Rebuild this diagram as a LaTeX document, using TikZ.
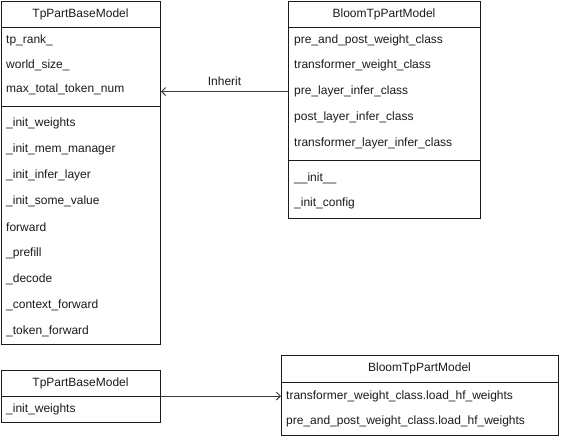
\documentclass[tikz,border=0pt]{standalone}
\usepackage{fontspec}
\setmainfont{Liberation Sans}
\usetikzlibrary{arrows.meta}
\definecolor{ink}{HTML}{1A1A1A}
\tikzset{
  frame/.style={draw=ink, line width=1pt, inner sep=0pt, anchor=north west},
  hdr/.style={text=ink, inner sep=0pt, anchor=center},
  row/.style={text=ink, inner sep=0pt, anchor=west},
  divider/.style={draw=ink, line width=1pt},
  inh/.style={draw=ink!85, line width=0.9pt, -{Straight Barb[length=4pt,width=8pt,line width=0.9pt]}}
}
\begin{document}
\begin{tikzpicture}[x=1pt,y=-1pt,font=\fontsize{12}{14}\selectfont]
\useasboundingbox (0,0) rectangle (561,440);
% ---------- Box A: TpPartBaseModel (top) ----------
\node[frame, minimum width=159pt, minimum height=343pt] (A) at (1,1) {};
\node[hdr] (Ah) at (80.5,14) {TpPartBaseModel};
\draw[divider] (1,27) -- (160,27);
\node[row] (Ar1) at (6,40.5) {tp\_rank\_};
\node[row] (Ar2) at (6,65.5) {world\_size\_};
\node[row] (Ar3) at (6,89.5) {max\_total\_token\_num};
\draw[divider] (1,106) -- (160,106);
\node[row] (Am1) at (6,123.5) {\_init\_weights};
\node[row] (Am2) at (6,149.5) {\_init\_mem\_manager};
\node[row] (Am3) at (6,175.5) {\_init\_infer\_layer};
\node[row] (Am4) at (6,201.5) {\_init\_some\_value};
\node[row] (Am5) at (6,227.5) {forward};
\node[row] (Am6) at (6,253.5) {\_prefill};
\node[row] (Am7) at (6,279.5) {\_decode};
\node[row] (Am8) at (6,305.5) {\_context\_forward};
\node[row] (Am9) at (6,331.5) {\_token\_forward};
% ---------- Box B: BloomTpPartModel (top) ----------
\node[frame, minimum width=192pt, minimum height=217pt] (B) at (288,1) {};
\node[hdr] (Bh) at (384,14) {BloomTpPartModel};
\draw[divider] (288,27) -- (480,27);
\node[row] (Br1) at (294,40.5) {pre\_and\_post\_weight\_class};
\node[row] (Br2) at (294,65.5) {transformer\_weight\_class};
\node[row] (Br3) at (294,91.5) {pre\_layer\_infer\_class};
\node[row] (Br4) at (294,117.5) {post\_layer\_infer\_class};
\node[row] (Br5) at (294,143.5) {transformer\_layer\_infer\_class};
\draw[divider] (288,160) -- (480,160);
\node[row] (Bm1) at (294,178.5) {\_\_init\_\_};
\node[row] (Bm2) at (294,203.5) {\_init\_config};
% inheritance arrow
\draw[inh] (B.west |- Br3) -- node[above=5pt, text=ink, inner sep=0pt] {Inherit} (A.east |- Br3);
% ---------- Box C: TpPartBaseModel (bottom) ----------
\node[frame, minimum width=159pt, minimum height=52pt] (C) at (1,370) {};
\node[hdr] (Ch) at (80.5,383) {TpPartBaseModel};
\draw[divider] (1,396) -- (160,396);
\node[row] (Cr1) at (6,409.5) {\_init\_weights};
% ---------- Box D: BloomTpPartModel (bottom) ----------
\node[frame, minimum width=277pt, minimum height=80pt] (D) at (281,355) {};
\node[hdr] (Dh) at (419.5,368) {BloomTpPartModel};
\draw[divider] (281,382) -- (558,382);
\node[row] (Dr1) at (286,396) {transformer\_weight\_class.load\_hf\_weights};
\node[row] (Dr2) at (286,421.5) {pre\_and\_post\_weight\_class.load\_hf\_weights};
% call arrow
\draw[inh] (C.east |- Dr1) -- (D.west |- Dr1);
\end{tikzpicture}
\end{document}
